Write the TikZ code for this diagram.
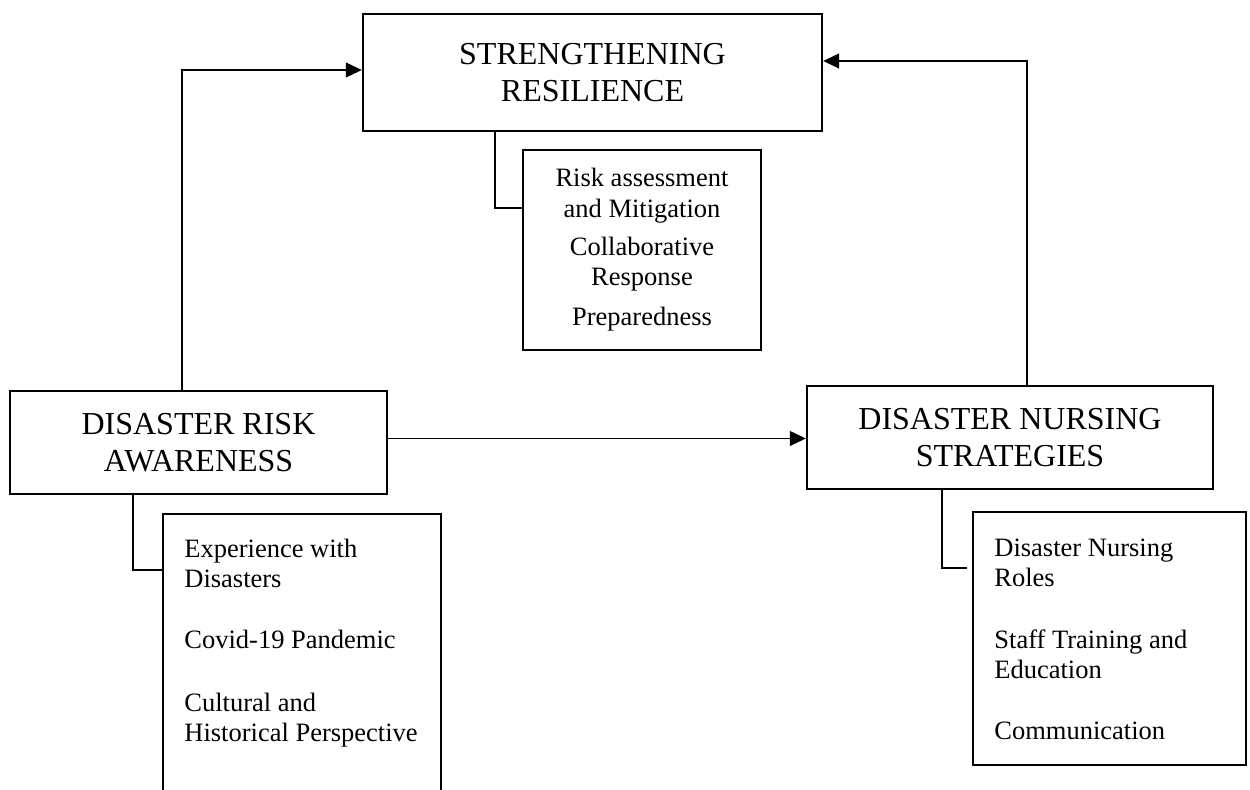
\documentclass[tikz,border=0pt]{standalone}
\usepackage{fontspec}
\setmainfont{Liberation Serif}
\usetikzlibrary{arrows.meta}
\begin{document}
\begin{tikzpicture}[x=0.5pt,y=-0.5pt,
  mainbox/.style={draw,line width=1.2pt,inner sep=0pt,align=center,
    font=\fontsize{16pt}{18.4pt}\selectfont},
  subbox/.style={draw,line width=1.2pt,inner sep=0pt},
  subtext/.style={inner sep=0pt,font=\fontsize{13.25pt}{15pt}\selectfont},
  link/.style={line width=0.55pt},
  arr/.style={link,-{Triangle[length=8pt,width=7.5pt]}}]
\clip (0,0) rectangle (1250,790);
\fill[white] (0,0) rectangle (1250,790);
% main boxes
\node[mainbox,minimum width=229.5pt,minimum height=58.5pt] (sr) at (592.5,72.5) {STRENGTHENING\\RESILIENCE};
\node[mainbox,minimum width=188.5pt,minimum height=51.5pt] (dra) at (198.5,442.5) {DISASTER RISK\\AWARENESS};
\node[mainbox,minimum width=203pt,minimum height=51.5pt] (dns) at (1010,437.5) {DISASTER NURSING\\STRATEGIES};
% sub boxes
\node[subbox,minimum width=119pt,minimum height=100pt] (rsub) at (642,250) {};
\node[subbox,minimum width=139pt,minimum height=143pt] (dsub) at (302,657) {};
\node[subbox,minimum width=136.5pt,minimum height=126.5pt] (nsub) at (1109.5,638.5) {};
% sub texts (base anchor = last line's baseline)
\node[subtext,align=center,anchor=base,font=\fontsize{13.25pt}{15.25pt}\selectfont] (rtxt) at (642,326)
  {Risk assessment\\and Mitigation\\[3.75pt]Collaborative\\Response\\[4.75pt]Preparedness};
\node[subtext,align=left,anchor=base west] (dtxt) at (184,742)
  {Experience with\\Disasters\\[15.5pt]Covid-19 Pandemic\\[16.5pt]Cultural and\\Historical Perspective};
\node[subtext,align=left,anchor=base west] (ntxt) at (994,740)
  {Disaster Nursing\\Roles\\[16pt]Staff Training and\\Education\\[15.5pt]Communication};
% arrows
\coordinate (lv) at (182,70);
\coordinate (rv) at (1027,61);
\coordinate (mh) at (600,438.5);
\draw[arr] (lv |- dra.north) -- (lv) -- (lv -| sr.west);
\draw[arr] (rv |- dns.north) -- (rv) -- (rv -| sr.east);
\draw[arr] (mh -| dra.east) -- (mh -| dns.west);
% sub connectors
\coordinate (tc) at (495,208);
\coordinate (lc) at (133,570);
\coordinate (rc) at (942,568);
\draw[link] (tc |- sr.south) -- (tc) -- (tc -| rsub.west);
\draw[link] (lc |- dra.south) -- (lc) -- (lc -| dsub.west);
\draw[link,shorten >=2.5pt] (rc |- dns.south) -- (rc) -- (rc -| nsub.west);
\end{tikzpicture}
\end{document}
